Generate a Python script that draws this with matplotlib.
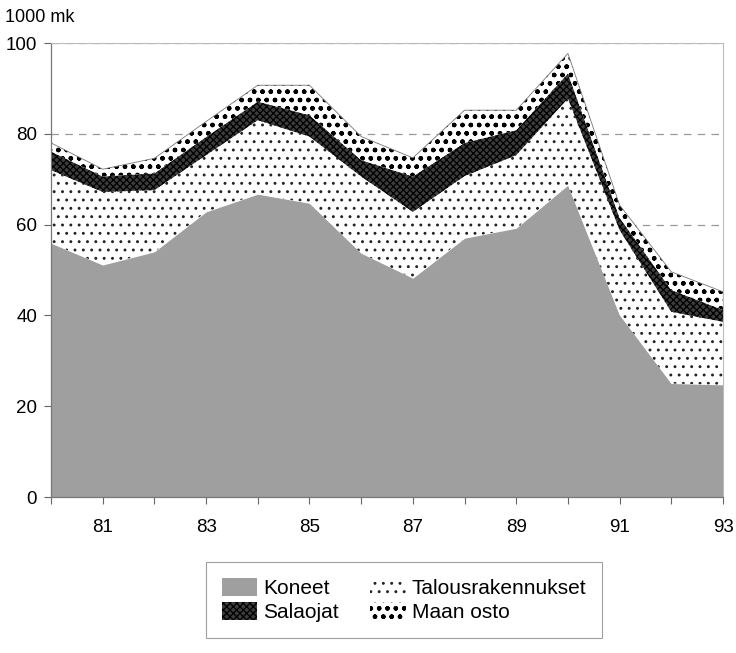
import matplotlib
matplotlib.use("Agg")
import matplotlib.pyplot as plt
import numpy as np

plt.rcParams['font.family'] = ['Liberation Sans', 'DejaVu Sans']
plt.rcParams['hatch.linewidth'] = 0.9

years = [80, 81, 82, 83, 84, 85, 86, 87, 88, 89, 90, 91, 92, 93]
koneet = [55.9, 51.1, 54.0, 62.8, 66.7, 64.7, 53.7, 48.2, 57.0, 59.2, 68.7, 40.1, 25.0, 24.7]
talous = [16.1, 16.1, 13.6, 12.5, 16.3, 14.7, 16.9, 14.6, 13.7, 16.1, 19.1, 18.7, 15.8, 13.9]
salaojat = [4.1, 3.4, 3.7, 4.0, 4.1, 4.7, 3.6, 7.8, 7.3, 5.5, 5.5, 2.7, 4.8, 2.6]
maan_osto = [1.9, 1.6, 3.3, 3.4, 3.6, 6.6, 5.2, 4.1, 7.2, 4.4, 4.4, 2.8, 4.0, 4.0]

labels = ['Koneet', 'Talousrakennukset', 'Salaojat', 'Maan osto']

fig = plt.figure(figsize=(7.36, 6.53), dpi=100)
ax = fig.add_axes([51/736, 1-497/653, (723-51)/736, (497-43)/653])

x = np.array(years, dtype=float)
series = [np.array(koneet), np.array(talous), np.array(salaojat), np.array(maan_osto)]
styles = [
    dict(facecolor='#9f9f9f', edgecolor='#9f9f9f', hatch=None),
    dict(facecolor='white', edgecolor='#222222', hatch='..'),
    dict(facecolor='#3c3c3c', edgecolor='black', hatch='xxxxx'),
    dict(facecolor='white', edgecolor='black', hatch='oo..'),
]
base = np.zeros_like(x)
handles = []
for s, st, lab in zip(series, styles, labels):
    top = base + s
    h = ax.fill_between(x, base, top, facecolor=st['facecolor'], edgecolor=st['edgecolor'],
                        hatch=st['hatch'], linewidth=0, label=lab, zorder=2)
    handles.append(h)
    base = top
ax.plot(x, base, color='#777777', lw=0.6, zorder=3)

ax.set_xlim(80, 93)
ax.set_ylim(0, 100)
ax.set_yticks([0, 20, 40, 60, 80, 100])
ax.set_xticks(years)
ax.set_xticklabels(['' if (y % 2 == 0) else str(y) for y in years])
ax.tick_params(axis='both', direction='out', length=5, color='#666666', labelsize=13.5)
ax.tick_params(axis='y', pad=5)
ax.tick_params(axis='x', pad=11)
ax.yaxis.grid(True, linestyle=(0, (6, 5)), color='#999999', lw=0.9, zorder=0)
ax.set_axisbelow(True)
for side in ['top', 'right']:
    ax.spines[side].set_color('#bbbbbb')
    ax.spines[side].set_linewidth(0.8)
for side in ['left', 'bottom']:
    ax.spines[side].set_color('#777777')
    ax.spines[side].set_linewidth(0.9)

fig.text(5/736, 1-17/653, '1000 mk', fontsize=13, va='center', ha='left')

order = [0, 2, 1, 3]
leg = fig.legend([handles[i] for i in order], [labels[i] for i in order],
                 loc='center', bbox_to_anchor=(404/736, 1-600/653), ncol=2,
                 fontsize=15, frameon=True, fancybox=False, edgecolor='#888888',
                 handlelength=1.7, handleheight=0.95, handletextpad=0.3,
                 columnspacing=1.5, labelspacing=0.2, borderpad=0.75,
                 borderaxespad=0)
leg.get_frame().set_linewidth(0.8)

fig.savefig('out.png', dpi=100)
